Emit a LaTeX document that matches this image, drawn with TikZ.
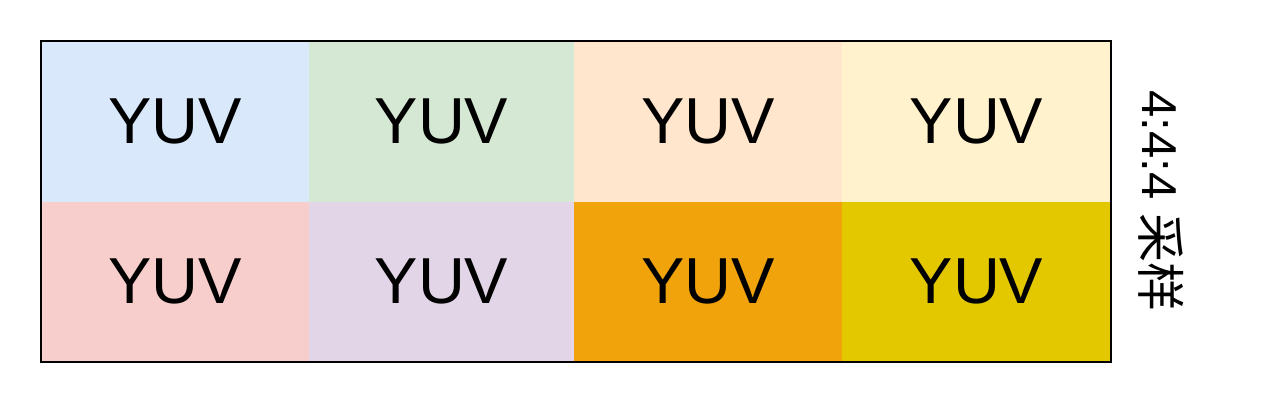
\documentclass[tikz,border=0pt]{standalone}
\usepackage{fontspec}
\setmainfont{Liberation Sans}
\newfontfamily\cjk{Noto Sans CJK SC}
\definecolor{cA}{HTML}{DAE8FC}
\definecolor{cB}{HTML}{D5E8D4}
\definecolor{cC}{HTML}{FFE6CC}
\definecolor{cD}{HTML}{FFF2CC}
\definecolor{cE}{HTML}{F8CECC}
\definecolor{cF}{HTML}{E1D5E7}
\definecolor{cG}{HTML}{F0A30A}
\definecolor{cH}{HTML}{E3C800}
\begin{document}
\begin{tikzpicture}[x=1pt,y=-1pt,
  cell/.style={fill=#1,draw=none,inner sep=0pt,outer sep=0pt,anchor=north west,
    minimum height=160.5pt,font=\fontsize{65}{70}\selectfont},
  frame/.style={draw=black,line width=1.8pt}]
\useasboundingbox (0,0) rectangle (1264,404);
\node[cell=cA,minimum width=268pt] (a1) at (41,41) {YUV};
\node[cell=cB,minimum width=265pt] (a2) at (309,41) {YUV};
\node[cell=cC,minimum width=268pt] (a3) at (574,41) {YUV};
\node[cell=cD,minimum width=269pt] (a4) at (842,41) {YUV};
\node[cell=cE,minimum width=268pt] (b1) at (41,201.5) {YUV};
\node[cell=cF,minimum width=265pt] (b2) at (309,201.5) {YUV};
\node[cell=cG,minimum width=268pt] (b3) at (574,201.5) {YUV};
\node[cell=cH,minimum width=269pt] (b4) at (842,201.5) {YUV};
\draw[frame] (a1.north west) rectangle (b4.south east);
\node[rotate=-90,inner sep=0pt,font=\fontsize{49}{52}\selectfont] (lbl) at (1161,201) {4:4:4 {\cjk 采样}};
\end{tikzpicture}
\end{document}
